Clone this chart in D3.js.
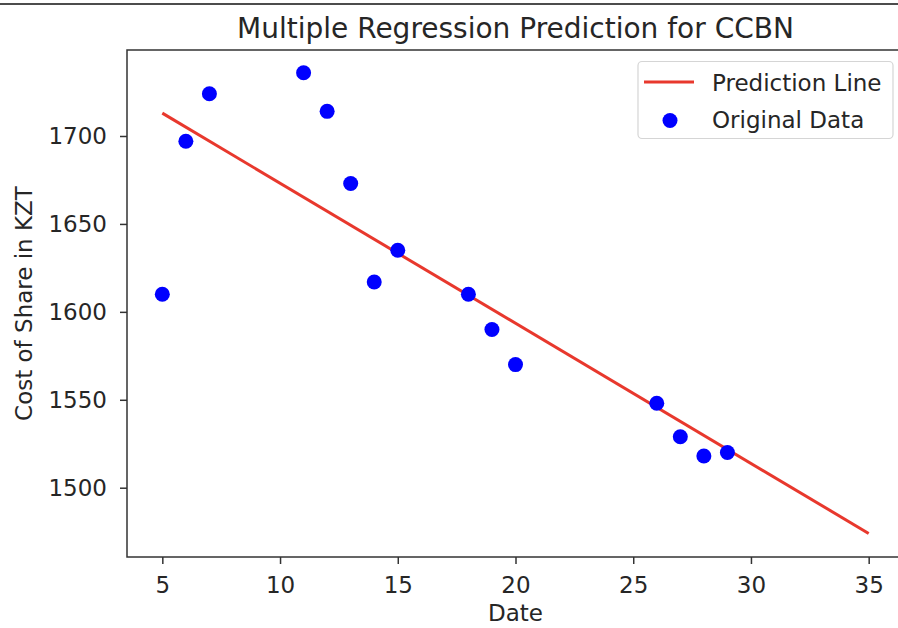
<!DOCTYPE html>
<html>
<head>
<meta charset="utf-8">
<script src="https://cdn.jsdelivr.net/npm/d3@7"></script>
<style>
  body { margin: 0; background: #fff; }
  svg { display: block; }
  text { font-family: "DejaVu Sans", sans-serif; fill: #262626; }
</style>
</head>
<body>
<svg width="898" height="628"></svg>
<script>
const dates  = [5, 6, 7, 11, 12, 13, 14, 15, 18, 19, 20, 26, 27, 28, 29];
const prices = [1610, 1697, 1724, 1736, 1714, 1673, 1617, 1635, 1610, 1590, 1570, 1548, 1529, 1518, 1520];

// prediction line end points
const predDates  = [5, 35];
const predPrices = [1713, 1474];

const xTicks = [5, 10, 15, 20, 25, 30, 35];
const yTicks = [1500, 1550, 1600, 1650, 1700];

const svg = d3.select("svg");
const plotLeft = 127, plotRight = 904, plotTop = 50, plotBottom = 557;

const x = d3.scaleLinear().domain([3.5, 36.5]).range([plotLeft, plotRight]);
const y = d3.scaleLinear().domain([1460.6, 1748.9]).range([plotBottom, plotTop]);

// top border of the screenshot
svg.append("line")
    .attr("x1", 0).attr("x2", 898)
    .attr("y1", 4).attr("y2", 4)
    .attr("stroke", "#111")
    .attr("stroke-width", 1.5);

// axes
const xAxis = svg.append("g")
    .attr("transform", `translate(0,${plotBottom})`)
    .call(d3.axisBottom(x).tickValues(xTicks).tickFormat(d3.format("d")).tickSize(7).tickPadding(13));

const yAxis = svg.append("g")
    .attr("transform", `translate(${plotLeft},0)`)
    .call(d3.axisLeft(y).tickValues(yTicks).tickFormat(d3.format("d")).tickSize(7).tickPadding(13));

[xAxis, yAxis].forEach(g => {
    g.select(".domain").remove();
    g.selectAll(".tick line").attr("stroke", "#333").attr("stroke-width", 1.5);
    g.selectAll(".tick text").style("font-size", "23px").attr("fill", "#262626");
});

// spines
svg.append("rect")
    .attr("x", plotLeft).attr("y", plotTop)
    .attr("width", plotRight - plotLeft).attr("height", plotBottom - plotTop)
    .attr("fill", "none")
    .attr("stroke", "#333")
    .attr("stroke-width", 1.5);

// prediction line
const line = d3.line()
    .x(d => x(d[0]))
    .y(d => y(d[1]));

svg.append("path")
    .datum(d3.zip(predDates, predPrices))
    .attr("d", line)
    .attr("fill", "none")
    .attr("stroke", "#e8382d")
    .attr("stroke-width", 3);

// scatter points
svg.selectAll(".pt")
    .data(d3.zip(dates, prices))
    .join("circle")
    .attr("class", "pt")
    .attr("cx", d => x(d[0]))
    .attr("cy", d => y(d[1]))
    .attr("r", 7.5)
    .attr("fill", "#0000ff");

// title and labels
svg.append("text")
    .attr("x", (plotLeft + plotRight) / 2)
    .attr("y", 38)
    .attr("text-anchor", "middle")
    .style("font-size", "28px")
    .text("Multiple Regression Prediction for CCBN");

svg.append("text")
    .attr("x", (plotLeft + plotRight) / 2)
    .attr("y", 621)
    .attr("text-anchor", "middle")
    .style("font-size", "23px")
    .text("Date");

svg.append("text")
    .attr("transform", `translate(32,${(plotTop + plotBottom) / 2}) rotate(-90)`)
    .attr("text-anchor", "middle")
    .style("font-size", "23px")
    .text("Cost of Share in KZT");

// legend
const legend = svg.append("g");
legend.append("rect")
    .attr("x", 638).attr("y", 61.5)
    .attr("width", 255).attr("height", 77)
    .attr("rx", 4)
    .attr("fill", "#fff")
    .attr("fill-opacity", 0.8)
    .attr("stroke", "#d5d5d5")
    .attr("stroke-width", 1.2);

legend.append("line")
    .attr("x1", 644).attr("x2", 694)
    .attr("y1", 82).attr("y2", 82)
    .attr("stroke", "#e8382d")
    .attr("stroke-width", 3);

legend.append("circle")
    .attr("cx", 670).attr("cy", 120.5)
    .attr("r", 7.5)
    .attr("fill", "#0000ff");

legend.append("text")
    .attr("x", 712).attr("y", 90.5)
    .style("font-size", "23px")
    .text("Prediction Line");

legend.append("text")
    .attr("x", 712).attr("y", 127.5)
    .style("font-size", "23px")
    .text("Original Data");
</script>
</body>
</html>
